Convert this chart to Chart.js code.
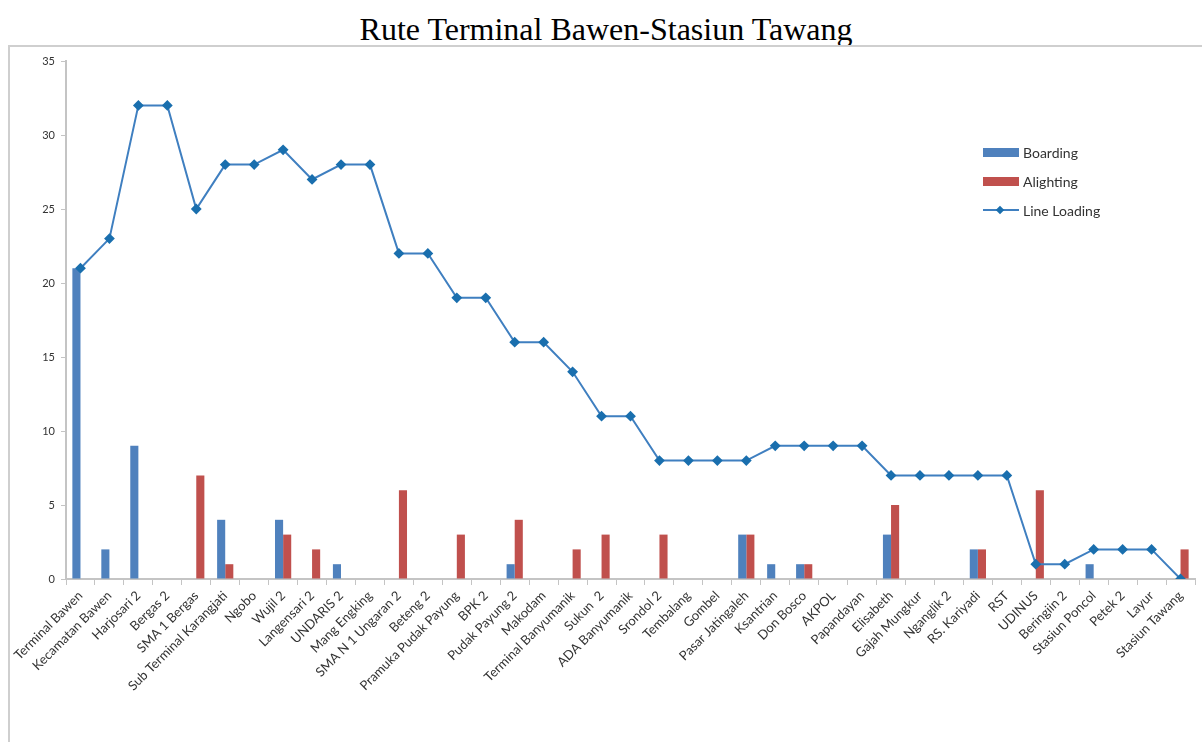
<!DOCTYPE html>
<html>
<head>
<meta charset="utf-8">
<script src="https://cdn.jsdelivr.net/npm/chart.js@4/dist/chart.umd.min.js"></script>
<style>
  html, body { margin: 0; padding: 0; background: #fff; overflow: hidden; }
  #title {
    position: absolute; left: 10px; top: 0; width: 1192px; height: 45px;
    text-align: center; font-family: "Liberation Serif", serif; font-size: 32px;
    line-height: 58px; color: #000;
  }
  #frame {
    position: absolute; left: 8px; top: 45px; width: 1200px; height: 710px;
    border: 2px solid #cfcfcf; box-sizing: border-box;
  }
  #wrap { position: absolute; left: 10px; top: 47px; width: 1192px; height: 695px; }
  #legend {
    position: absolute; left: 983px; top: 138px;
    font-family: Lato, "Open Sans", sans-serif; font-size: 14px; color: #333;
  }
  .row { height: 29px; display: flex; align-items: center; }
  .sw { width: 36px; height: 9px; margin-right: 4px; position: relative; }
  .ln { position: absolute; left: 0; right: 0; top: 3px; height: 2px; }
  .dm { position: absolute; left: 14px; top: 1px; width: 6px; height: 6px; transform: rotate(45deg); }
</style>
</head>
<body>
<div id="title">Rute Terminal Bawen-Stasiun Tawang</div>
<div id="frame"></div>
<div id="wrap"><canvas id="chart" width="1192" height="695"></canvas></div>
<div id="legend"></div>
<script>
// halte sepanjang rute
var stops = ['Terminal Bawen', 'Kecamatan Bawen', 'Harjosari 2', 'Bergas 2', 'SMA 1 Bergas',
    'Sub Terminal Karangjati', 'Ngobo', 'Wujil 2', 'Langensari 2', 'UNDARIS 2', 'Mang Engking',
    'SMA N 1 Ungaran 2', 'Beteng 2', 'Pramuka Pudak Payung', 'BPK 2', 'Pudak Payung 2', 'Makodam',
    'Terminal Banyumanik', 'Sukun  2', 'ADA Banyumanik', 'Srondol 2', 'Tembalang', 'Gombel',
    'Pasar Jatingaleh', 'Ksantrian', 'Don Bosco', 'AKPOL', 'Papandayan', 'Elisabeth',
    'Gajah Mungkur', 'Nganglik 2', 'RS. Kariyadi', 'RST', 'UDINUS', 'Beringiin 2',
    'Stasiun Poncol', 'Petek 2', 'Layur', 'Stasiun Tawang'];

var boarding = [21, 2, 9, 0, 0, 4, 0, 4, 0, 1, 0, 0, 0, 0, 0, 1, 0, 0, 0, 0, 0, 0, 0,
    3, 1, 1, 0, 0, 3, 0, 0, 2, 0, 0, 0, 1, 0, 0, 0];
var alighting = [0, 0, 0, 0, 7, 1, 0, 3, 2, 0, 0, 6, 0, 3, 0, 4, 0, 2, 3, 0, 3, 0, 0,
    3, 0, 1, 0, 0, 5, 0, 0, 2, 0, 6, 0, 0, 0, 0, 2];
var lineLoading = [21, 23, 32, 32, 25, 28, 28, 29, 27, 28, 28, 22, 22, 19, 19, 16, 16, 14, 11, 11,
    8, 8, 8, 8, 9, 9, 9, 9, 7, 7, 7, 7, 7, 1, 1, 2, 2, 2, 0];

var yTicks = [0, 5, 10, 15, 20, 25, 30, 35];

var blue = '#4f81bd', red = '#c0504d', lineBlue = '#3f7fc0', marker = '#1a6fae';
var axisGrey = '#c4c4c4';
var tickFont = { family: 'Lato', size: 13 };

var ctx = document.getElementById('chart').getContext('2d');
var conf = {
    type: 'bar',
    data: {
        labels: stops,
        datasets: [{
            type: 'line',
            label: 'Line Loading',
            data: lineLoading,
            borderColor: lineBlue,
            borderWidth: 2,
            pointStyle: 'rectRot',
            pointRadius: 4,
            pointBackgroundColor: marker,
            pointBorderColor: marker,
            tension: 0,
            order: 0
        }, {
            label: 'Boarding',
            data: boarding,
            backgroundColor: blue,
            categoryPercentage: 0.56,
            barPercentage: 1,
            order: 1
        }, {
            label: 'Alighting',
            data: alighting,
            backgroundColor: red,
            categoryPercentage: 0.56,
            barPercentage: 1,
            order: 1
        }]
    },
    options: {
        responsive: false,
        animation: false,
        layout: { padding: { top: 14, right: 7, bottom: 0, left: 0 } },
        plugins: { legend: { display: false }, tooltip: { enabled: false } },
        scales: {
            x: {
                offset: true,
                grid: { offset: true, drawOnChartArea: false, drawTicks: true, tickLength: 6, color: axisGrey },
                border: { color: axisGrey, width: 2 },
                ticks: { minRotation: 45, maxRotation: 45, autoSkip: false, color: '#333', font: tickFont, padding: 3 },
                afterFit: function (s) { s.height = 163; }
            },
            y: {
                min: 0, max: 35,
                afterBuildTicks: function (s) { s.ticks = yTicks.map(function (v) { return { value: v }; }); },
                grid: { drawOnChartArea: false, drawTicks: true, tickLength: 5, color: axisGrey },
                border: { color: axisGrey, width: 2 },
                ticks: { color: '#333', font: { family: 'Lato', size: 11 }, padding: 6 },
                afterFit: function (s) { s.width = 56; }
            }
        }
    }
};
var chart = new Chart(ctx, conf);

// legend on the right, Boarding / Alighting / Line Loading
var order = [1, 2, 0];
var html = '';
order.forEach(function (i) {
    var ds = conf.data.datasets[i];
    var sw;
    if (ds.type === 'line') {
        sw = '<div class="sw"><div class="ln" style="background:' + lineBlue + '"></div>' +
             '<div class="dm" style="background:' + marker + '"></div></div>';
    } else {
        sw = '<div class="sw" style="background:' + ds.backgroundColor + '"></div>';
    }
    html += '<div class="row">' + sw + '<span>' + ds.label + '</span></div>';
});
document.getElementById('legend').innerHTML = html;
</script>
</body>
</html>
